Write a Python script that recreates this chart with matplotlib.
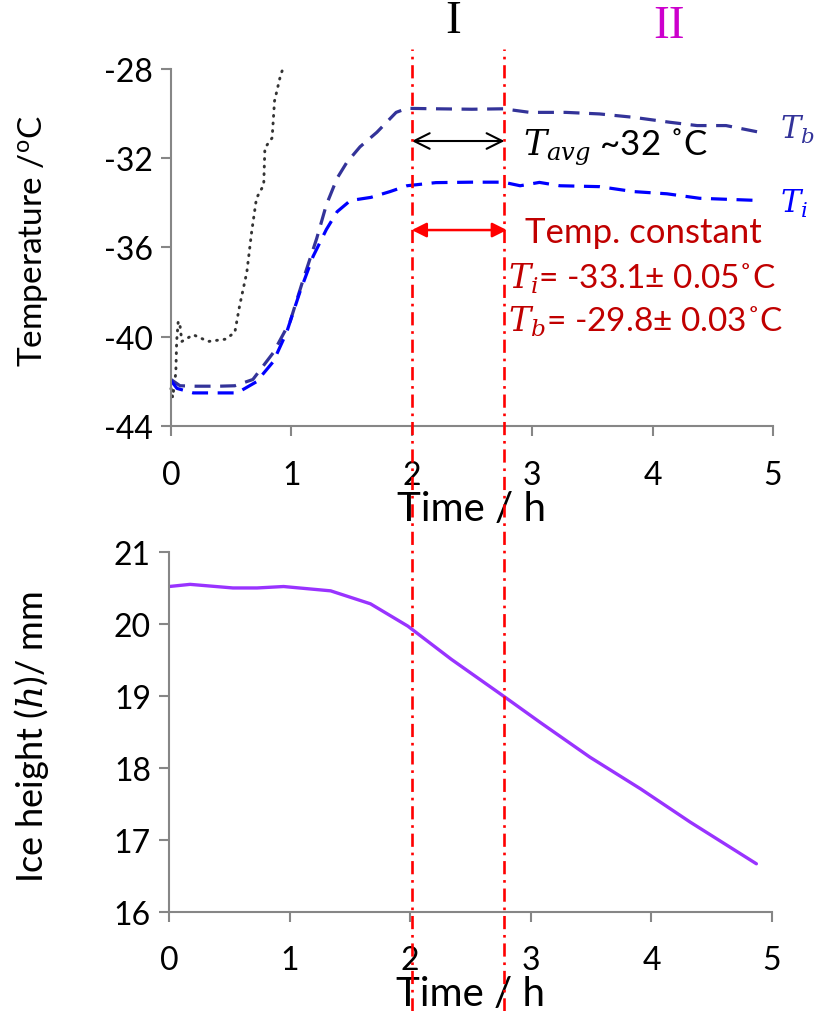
import matplotlib
matplotlib.use("Agg")
import matplotlib.pyplot as plt
from matplotlib.lines import Line2D
from matplotlib.transforms import blended_transform_factory

plt.rcParams['font.family'] = ['Lato', 'DejaVu Sans']
plt.rcParams['mathtext.fontset'] = 'custom'
plt.rcParams['mathtext.rm'] = 'Lato'
plt.rcParams['mathtext.it'] = 'DejaVu Serif:italic'
plt.rcParams['mathtext.bf'] = 'Lato:bold'

# ---- data ----
time_tb = [0, 0.075, 0.2, 0.4, 0.53, 0.68, 0.85, 0.99, 1.10, 1.21, 1.29, 1.38, 1.46,
           1.57, 1.71, 1.87, 1.96, 2.2, 2.5, 2.76, 2.98, 3.28, 3.56, 3.84, 4.14,
           4.37, 4.61, 4.89]
temp_tb = [-41.9, -42.18, -42.2, -42.2, -42.18, -41.9, -40.7, -39.3, -37.4, -35.6,
           -34.1, -32.9, -32.2, -31.5, -30.85, -29.96, -29.78, -29.8, -29.82, -29.8,
           -29.96, -29.96, -30.03, -30.18, -30.4, -30.55, -30.55, -30.85]

time_ti = [0, 0.05, 0.185, 0.35, 0.55, 0.71, 0.85, 0.96, 1.07, 1.18, 1.29, 1.38, 1.49,
           1.66, 1.82, 1.96, 2.2, 2.5, 2.76, 2.90, 3.06, 3.23, 3.56, 3.84, 4.12,
           4.39, 4.89]
temp_ti = [-41.95, -42.3, -42.5, -42.5, -42.5, -42.0, -41.1, -39.8, -38.0, -36.4,
           -35.2, -34.4, -33.9, -33.76, -33.5, -33.24, -33.1, -33.08, -33.08, -33.24,
           -33.09, -33.24, -33.28, -33.5, -33.6, -33.8, -33.9]

time_air = [0, 0.014, 0.04, 0.047, 0.06, 0.075, 0.09, 0.185, 0.31, 0.45, 0.53, 0.57,
            0.63, 0.67, 0.71, 0.77, 0.78, 0.84, 0.86, 0.91, 0.93]
temp_air = [-42.3, -42.7, -41.6, -40.2, -39.3, -39.5, -40.2, -39.9, -40.2, -40.1,
            -39.8, -38.6, -37.1, -35.3, -33.8, -33.2, -31.55, -31.1, -29.45, -28.3,
            -28.0]

time_h = [0, 0.175, 0.53, 0.73, 0.95, 1.34, 1.67, 1.98, 2.34, 2.78, 3.08, 3.49,
          3.91, 4.32, 4.87]
ice_h = [20.52, 20.55, 20.50, 20.50, 20.52, 20.46, 20.28, 19.97, 19.51, 18.99,
         18.63, 18.15, 17.71, 17.25, 16.67]

phase_bounds = [2.0, 2.77]
temp_ticks = [-44, -40, -36, -32, -28]
h_ticks = [16, 17, 18, 19, 20, 21]
time_ticks = [0, 1, 2, 3, 4, 5]

# ---- figure ----
fig = plt.figure(figsize=(8.17, 10.12), dpi=100)
ax1 = fig.add_axes([0.2093, 0.5776, 0.7368, 0.3537])
ax2 = fig.add_axes([0.2069, 0.0978, 0.7381, 0.3558])

spine_col = '#868686'
tick_fs = 23

for ax in (ax1, ax2):
    for s in ('top', 'right'):
        ax.spines[s].set_visible(False)
    for s in ('left', 'bottom'):
        ax.spines[s].set_color(spine_col)
        ax.spines[s].set_linewidth(1.5)
    ax.tick_params(axis='both', direction='out', length=7, width=1.5,
                   color=spine_col, labelsize=tick_fs, labelcolor='black')
    ax.tick_params(axis='x', pad=17)
    ax.tick_params(axis='y', pad=6)
    ax.set_xlim(0, 5)
    ax.set_xticks(time_ticks)
    ax.set_xticklabels([str(t) for t in time_ticks])

# top panel: temperatures
ax1.set_ylim(-44, -28)
ax1.set_yticks(temp_ticks)
ax1.set_yticklabels([str(t) for t in temp_ticks])

ax1.plot(time_air, temp_air, color='#333333', lw=2.1, linestyle=(0, (0.3, 2.3)),
         dash_capstyle='round', clip_on=False)
ax1.plot(time_tb, temp_tb, color='#333399', lw=2.3, linestyle=(0, (5, 3)))
ax1.plot(time_ti, temp_ti, color='#0000FF', lw=2.3, linestyle=(0, (5, 3)))

ax1.set_xlabel('Time / h', fontsize=29, labelpad=0)
ax1.set_ylabel('Temperature /$^{\\mathrm{o}}$C', fontsize=24)
ax1.yaxis.set_label_coords(-0.2, 0.52)

ax1.text(5.06, -30.7, '$T_b$', color='#333399', fontsize=22, va='center', ha='left')
ax1.text(5.06, -34.0, '$T_i$', color='#0000FF', fontsize=22, va='center', ha='left')

ax1.annotate('', xy=(phase_bounds[0], -31.24), xytext=(phase_bounds[1], -31.24),
             arrowprops=dict(arrowstyle='<->', color='black', lw=1.5,
                             mutation_scale=28, shrinkA=0, shrinkB=0))
ax1.text(2.92, -31.5, '$T_{avg}$ ~32 ˚C', fontsize=25, va='center', ha='left')

red_txt = '#C00000'
ax1.annotate('', xy=(phase_bounds[0], -35.22), xytext=(phase_bounds[1] + 0.02, -35.22),
             arrowprops=dict(arrowstyle='<|-|>', color='#FF0000', lw=1.8,
                             mutation_scale=22, shrinkA=0, shrinkB=0))
ax1.text(2.94, -35.3, 'Temp. constant', color=red_txt, fontsize=25, va='center', ha='left')
ax1.text(2.80, -37.36, '$T_i$= -33.1± 0.05˚C', color=red_txt, fontsize=24,
         va='center', ha='left')
ax1.text(2.80, -39.28, '$T_b$= -29.8± 0.03˚C', color=red_txt, fontsize=24,
         va='center', ha='left')

# phase labels
fig.text(453 / 817, 1 - 22 / 1012, 'I', fontsize=34, family='Liberation Serif',
         ha='center', va='center', color='black')
fig.text(669 / 817, 1 - 27 / 1012, 'II', fontsize=34, family='Liberation Serif',
         ha='center', va='center', color='#CC00CC')

# bottom panel: ice height
ax2.set_ylim(16, 21)
ax2.set_yticks(h_ticks)
ax2.set_yticklabels([str(t) for t in h_ticks])
ax2.plot(time_h, ice_h, color='#9933FF', lw=2.4, solid_capstyle='round')
ax2.set_xlabel('Time / h', fontsize=29, labelpad=0)
ax2.set_ylabel('Ice height ($h$)/ mm', fontsize=26)
ax2.yaxis.set_label_coords(-0.195, 0.49)

# phase boundaries spanning both panels
trans = blended_transform_factory(ax1.transData, fig.transFigure)
for xb in phase_bounds:
    fig.add_artist(Line2D([xb, xb], [0.0, 0.9506], transform=trans, color='#FF0000',
                          lw=1.9, linestyle=(0, (5, 2.2, 1, 2.2)), zorder=5))

fig.savefig('out.png', dpi=100)
